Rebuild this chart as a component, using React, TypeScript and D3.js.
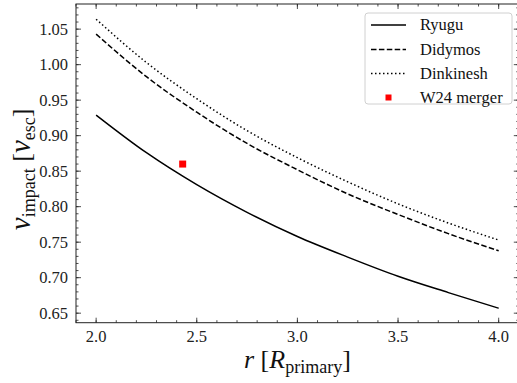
import React from "react";
import * as d3 from "d3";

const rValues = [2.0, 2.25, 2.5, 2.75, 3.0, 3.25, 3.5, 3.75, 4.0];
const ryugu = [0.929, 0.876, 0.831, 0.792, 0.758, 0.729, 0.702, 0.679, 0.657];
const didymos = [1.043, 0.983, 0.933, 0.889, 0.852, 0.818, 0.789, 0.762, 0.738];
const dinkinesh = [1.064, 1.003, 0.952, 0.907, 0.869, 0.835, 0.804, 0.777, 0.753];
const mergerR = [2.43];
const mergerV = [0.86];
const xTicks = [2.0, 2.5, 3.0, 3.5, 4.0];
const yTicks = [0.65, 0.7, 0.75, 0.8, 0.85, 0.9, 0.95, 1.0, 1.05];
const seriesNames = ["Ryugu", "Didymos", "Dinkinesh"];
const mergerName = "W24 merger";

const W = 517, H = 383;
const L = 76, R = 518.8, T = 4, B = 322.7;
const FONT = "'Liberation Serif', serif";

export default function App() {
  const x = d3.scaleLinear().domain([1.9, 4.1]).range([L, R]);
  const y = d3.scaleLinear().domain([0.6366, 1.0854]).range([B, T]);
  const line = d3
    .line<number>()
    .x((_, i) => x(rValues[i]))
    .y((d) => y(d))
    .curve(d3.curveMonotoneX);

  const series = [
    { name: seriesNames[0], data: ryugu, dash: "" },
    { name: seriesNames[1], data: didymos, dash: "5.5,2.4" },
    { name: seriesNames[2], data: dinkinesh, dash: "1.5,2.5" },
  ];

  const xMinor = d3.range(19, 42).map((v) => v / 10);
  const yMinor = d3.range(64, 109).map((v) => v / 100).filter((v) => v >= 0.6366 && v <= 1.0854);

  const tickColor = "#222";
  const legendRows = [25, 49.5, 73.5, 97.5];
  const fs = (size: number) => ({ fontFamily: FONT, fontSize: size });

  return (
    <svg width={W} height={H} style={{ position: "absolute", left: 0, top: 0, background: "white" }}>
      <defs>
        <clipPath id="plotclip">
          <rect x={L} y={T} width={R - L} height={B - T} />
        </clipPath>
      </defs>
      <g clipPath="url(#plotclip)">
        {series.map((s) => (
          <path key={s.name} d={line(s.data) || ""} fill="none" stroke="#000" strokeWidth={1.5} strokeDasharray={s.dash} />
        ))}
        {mergerR.map((r, i) => (
          <rect key={i} x={x(r) - 3.5} y={y(mergerV[i]) - 3.5} width={7} height={7} fill="#ff0000" />
        ))}
      </g>
      <g stroke={tickColor} strokeWidth={0.8}>
        {xMinor.map((v) => (
          <g key={"xm" + v}>
            <line x1={x(v)} x2={x(v)} y1={B} y2={B - 2.5} />
            <line x1={x(v)} x2={x(v)} y1={T} y2={T + 2.5} />
          </g>
        ))}
        {xTicks.map((v) => (
          <g key={"xM" + v}>
            <line x1={x(v)} x2={x(v)} y1={B} y2={B - 5} />
            <line x1={x(v)} x2={x(v)} y1={T} y2={T + 5} />
          </g>
        ))}
        {yMinor.map((v) => (
          <g key={"ym" + v}>
            <line x1={L} x2={L + 2.5} y1={y(v)} y2={y(v)} />
            <line x1={R} x2={R - 2.5} y1={y(v)} y2={y(v)} />
          </g>
        ))}
        {yTicks.map((v) => (
          <g key={"yM" + v}>
            <line x1={L} x2={L + 5} y1={y(v)} y2={y(v)} />
            <line x1={R} x2={R - 5} y1={y(v)} y2={y(v)} />
          </g>
        ))}
      </g>
      <rect x={L} y={T} width={R - L} height={B - T} fill="none" stroke={tickColor} strokeWidth={1} />
      <g fill="#222">
        {xTicks.map((v) => (
          <text key={"xl" + v} x={x(v)} y={342} textAnchor="middle" style={fs(16.5)}>
            {v.toFixed(1)}
          </text>
        ))}
        {yTicks.map((v) => (
          <text key={"yl" + v} x={68} y={y(v) + 5.5} textAnchor="end" style={fs(16.5)}>
            {v.toFixed(2)}
          </text>
        ))}
      </g>
      <text x={(L + R) / 2} y={368} textAnchor="middle" fill="#111" style={fs(26)}>
        <tspan fontStyle="italic">r</tspan>
        <tspan> [</tspan>
        <tspan fontStyle="italic">R</tspan>
        <tspan style={{ fontSize: 18 }} dy={5}>primary</tspan>
        <tspan dy={-5}>]</tspan>
      </text>
      <text
        transform={`translate(30, ${(T + B) / 2 + 6}) rotate(-90)`}
        textAnchor="middle"
        fill="#111"
        style={fs(26)}
      >
        <tspan fontStyle="italic" style={{ fontSize: 29 }}>v</tspan>
        <tspan style={{ fontSize: 18 }} dy={5}>impact</tspan>
        <tspan dy={-5}> [</tspan>
        <tspan fontStyle="italic" style={{ fontSize: 29 }}>v</tspan>
        <tspan style={{ fontSize: 18 }} dy={5}>esc</tspan>
        <tspan dy={-5}>]</tspan>
      </text>
      <rect x={365} y={13} width={147} height={91} rx={3} fill="white" fillOpacity={0.8} stroke="#d0d0d0" strokeWidth={1} />
      {series.map((s, i) => (
        <g key={"lg" + s.name}>
          <line x1={371} x2={406} y1={legendRows[i]} y2={legendRows[i]} stroke="#000" strokeWidth={1.5} strokeDasharray={s.dash} />
          <text x={420} y={legendRows[i] + 5} fill="#111" style={fs(16.5)}>
            {s.name}
          </text>
        </g>
      ))}
      <rect x={388.5 - 3} y={legendRows[3] - 3} width={6} height={6} fill="#ff0000" />
      <text x={420} y={legendRows[3] + 5} fill="#111" style={fs(16.5)}>
        {mergerName}
      </text>
    </svg>
  );
}
